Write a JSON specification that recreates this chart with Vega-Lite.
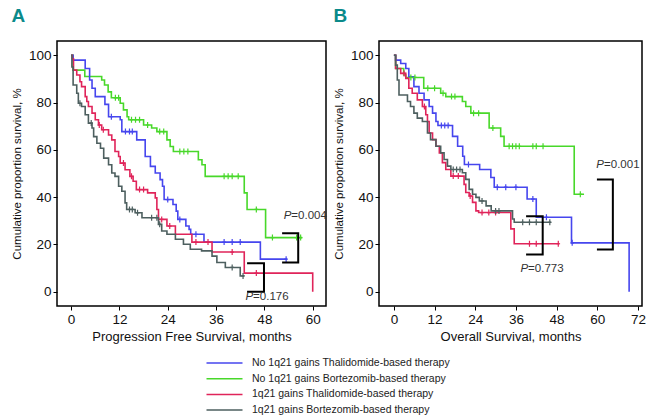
{
"$schema":"https://vega.github.io/schema/vega-lite/v6.json",
"padding":{"left":10,"top":6,"right":5,"bottom":5},
"config":{"font":"Liberation Sans","view":{"stroke":"black","strokeWidth":1.5},
"axis":{"domain":false,"grid":false,"tickColor":"black","tickSize":4,"labelFontSize":13.5,"labelColor":"#111","titleColor":"#111","titleFontWeight":"normal","labelPadding":2},
"concat":{"spacing":4}},
"datasets":{
"curvesA":[
{"g":"NB","t":0,"v":100},{"g":"NB","t":0.5,"v":93.7},{"g":"NB","t":3.4,"v":91},{"g":"NB","t":7.6,"v":89.5},{"g":"NB","t":8.3,"v":87.4},{"g":"NB","t":9.2,"v":84.5},{"g":"NB","t":10,"v":82},{"g":"NB","t":12.2,"v":79.7},{"g":"NB","t":13,"v":76.9},{"g":"NB","t":13.9,"v":74},{"g":"NB","t":14.3,"v":72.7},{"g":"NB","t":18,"v":70.5},{"g":"NB","t":20,"v":69.2},{"g":"NB","t":21.3,"v":67.7},{"g":"NB","t":23.8,"v":64.2},{"g":"NB","t":24.6,"v":61.4},{"g":"NB","t":25.4,"v":59.3},{"g":"NB","t":31.6,"v":55.8},{"g":"NB","t":32.5,"v":53.7},{"g":"NB","t":33.3,"v":48.8},{"g":"NB","t":43,"v":41.8},{"g":"NB","t":43.7,"v":34.8},{"g":"NB","t":48.3,"v":22.9},{"g":"NB","t":57.4,"v":22.9},
{"g":"NT","t":0,"v":100},{"g":"NT","t":0.5,"v":97.9},{"g":"NT","t":3.5,"v":94.4},{"g":"NT","t":4.6,"v":89.5},{"g":"NT","t":5.2,"v":86},{"g":"NT","t":6,"v":82.5},{"g":"NT","t":8.4,"v":79.2},{"g":"NT","t":9.3,"v":74},{"g":"NT","t":12.2,"v":72.7},{"g":"NT","t":12.6,"v":67.7},{"g":"NT","t":16.3,"v":64.2},{"g":"NT","t":18.4,"v":57.2},{"g":"NT","t":19.7,"v":53},{"g":"NT","t":20.9,"v":50.2},{"g":"NT","t":22.1,"v":47.4},{"g":"NT","t":22.7,"v":44.6},{"g":"NT","t":23.1,"v":39},{"g":"NT","t":25.3,"v":36.9},{"g":"NT","t":26.1,"v":34.1},{"g":"NT","t":26.5,"v":30.6},{"g":"NT","t":28.5,"v":27.8},{"g":"NT","t":29.3,"v":26.4},{"g":"NT","t":29.7,"v":24.3},{"g":"NT","t":33,"v":21},{"g":"NT","t":47,"v":13.8},{"g":"NT","t":53.6,"v":13.8},
{"g":"GT","t":0,"v":100},{"g":"GT","t":0.3,"v":98.5},{"g":"GT","t":0.6,"v":93.7},{"g":"GT","t":1.4,"v":91.6},{"g":"GT","t":2.2,"v":88.8},{"g":"GT","t":2.6,"v":86.7},{"g":"GT","t":3.5,"v":82.5},{"g":"GT","t":3.9,"v":80.4},{"g":"GT","t":4.3,"v":78.3},{"g":"GT","t":5.2,"v":75.5},{"g":"GT","t":6,"v":72.7},{"g":"GT","t":6.8,"v":70.5},{"g":"GT","t":7.6,"v":68.5},{"g":"GT","t":9.3,"v":66.3},{"g":"GT","t":10.1,"v":64.2},{"g":"GT","t":10.9,"v":59.3},{"g":"GT","t":11.8,"v":57.2},{"g":"GT","t":12.2,"v":54.4},{"g":"GT","t":13.4,"v":51.6},{"g":"GT","t":14.6,"v":48.8},{"g":"GT","t":15.4,"v":46.7},{"g":"GT","t":16.2,"v":43.2},{"g":"GT","t":19,"v":41.8},{"g":"GT","t":20.9,"v":39.7},{"g":"GT","t":21.3,"v":34.8},{"g":"GT","t":21.7,"v":30.6},{"g":"GT","t":23.8,"v":27.8},{"g":"GT","t":25.9,"v":24.3},{"g":"GT","t":30,"v":21},{"g":"GT","t":35,"v":16.8},{"g":"GT","t":43,"v":7.9},{"g":"GT","t":60,"v":0},
{"g":"GB","t":0,"v":100},{"g":"GB","t":0.2,"v":95},{"g":"GB","t":0.5,"v":87.4},{"g":"GB","t":1.4,"v":83.9},{"g":"GB","t":1.8,"v":79.7},{"g":"GB","t":2.6,"v":78.3},{"g":"GB","t":3.5,"v":74.8},{"g":"GB","t":4.3,"v":71.3},{"g":"GB","t":5.2,"v":69.2},{"g":"GB","t":5.6,"v":65.6},{"g":"GB","t":6.4,"v":62.8},{"g":"GB","t":7.3,"v":60.7},{"g":"GB","t":8.1,"v":56.5},{"g":"GB","t":9.3,"v":53.7},{"g":"GB","t":10.1,"v":50.2},{"g":"GB","t":10.9,"v":48.8},{"g":"GB","t":11.8,"v":44.6},{"g":"GB","t":12.6,"v":42.5},{"g":"GB","t":13.4,"v":37.6},{"g":"GB","t":13.8,"v":34.8},{"g":"GB","t":15.9,"v":33.4},{"g":"GB","t":17.6,"v":31.3},{"g":"GB","t":21.7,"v":28.5},{"g":"GB","t":22.5,"v":25.7},{"g":"GB","t":23.8,"v":24.3},{"g":"GB","t":25.9,"v":22.2},{"g":"GB","t":27.9,"v":20.1},{"g":"GB","t":29.6,"v":18},{"g":"GB","t":32.4,"v":17.3},{"g":"GB","t":35,"v":15.1},{"g":"GB","t":36.2,"v":12.4},{"g":"GB","t":38.3,"v":10.3},{"g":"GB","t":42,"v":6.7},{"g":"GB","t":43,"v":6.7}
],
"censA":[
{"g":"NB","t":11,"v":82},{"g":"NB","t":11.8,"v":82},{"g":"NB","t":15,"v":72.7},{"g":"NB","t":16,"v":72.7},{"g":"NB","t":17,"v":72.7},{"g":"NB","t":19,"v":70.5},{"g":"NB","t":22,"v":67.7},{"g":"NB","t":23,"v":67.7},{"g":"NB","t":27,"v":59.3},{"g":"NB","t":28,"v":59.3},{"g":"NB","t":29,"v":59.3},{"g":"NB","t":38,"v":48.8},{"g":"NB","t":39,"v":48.8},{"g":"NB","t":40,"v":48.8},{"g":"NB","t":41.5,"v":48.8},{"g":"NB","t":46,"v":34.8},{"g":"NB","t":50,"v":22.9},{"g":"NB","t":56,"v":22.9},{"g":"NB","t":57,"v":22.9},
{"g":"NT","t":10,"v":74},{"g":"NT","t":13.5,"v":67.7},{"g":"NT","t":14.5,"v":67.7},{"g":"NT","t":15.2,"v":67.7},{"g":"NT","t":24,"v":39},{"g":"NT","t":27,"v":30.6},{"g":"NT","t":31,"v":24.3},{"g":"NT","t":38,"v":21},{"g":"NT","t":40,"v":21},{"g":"NT","t":42,"v":21},{"g":"NT","t":53.4,"v":13.8},
{"g":"GT","t":7,"v":70.5},{"g":"GT","t":8,"v":68.5},{"g":"GT","t":13,"v":54.4},{"g":"GT","t":15,"v":48.8},{"g":"GT","t":17,"v":43.2},{"g":"GT","t":18,"v":43.2},{"g":"GT","t":22.5,"v":30.6},{"g":"GT","t":24.5,"v":27.8},{"g":"GT","t":31,"v":21},{"g":"GT","t":34,"v":21},{"g":"GT","t":40,"v":16.8},{"g":"GT","t":46,"v":7.9},
{"g":"GB","t":2.2,"v":79.7},{"g":"GB","t":5,"v":71.3},{"g":"GB","t":14.5,"v":34.8},{"g":"GB","t":15.2,"v":34.8},{"g":"GB","t":16.5,"v":33.4},{"g":"GB","t":20,"v":31.3},{"g":"GB","t":21.3,"v":31.3},{"g":"GB","t":22,"v":28.5},{"g":"GB","t":40,"v":10.3},{"g":"GB","t":42.7,"v":6.7}
],
"curvesB":[
{"g":"NB","t":0,"v":100},{"g":"NB","t":0.5,"v":94.4},{"g":"NB","t":2.9,"v":91.6},{"g":"NB","t":3.5,"v":90.6},{"g":"NB","t":8.8,"v":86},{"g":"NB","t":13.8,"v":83.9},{"g":"NB","t":15.3,"v":82.5},{"g":"NB","t":20.2,"v":80.4},{"g":"NB","t":21.2,"v":78.3},{"g":"NB","t":22.7,"v":75.5},{"g":"NB","t":28.1,"v":69.2},{"g":"NB","t":31.5,"v":65.7},{"g":"NB","t":32.5,"v":61.5},{"g":"NB","t":53.2,"v":41.2},{"g":"NB","t":56.1,"v":41.2},
{"g":"NT","t":0,"v":100},{"g":"NT","t":0.5,"v":97.9},{"g":"NT","t":2,"v":96.5},{"g":"NT","t":3.5,"v":94.4},{"g":"NT","t":4.4,"v":90.9},{"g":"NT","t":5.9,"v":86.7},{"g":"NT","t":7.4,"v":83.9},{"g":"NT","t":8.9,"v":81.1},{"g":"NT","t":10.4,"v":78.3},{"g":"NT","t":11.4,"v":75.5},{"g":"NT","t":12.4,"v":72},{"g":"NT","t":13,"v":70.3},{"g":"NT","t":17.3,"v":65.7},{"g":"NT","t":18.8,"v":61.5},{"g":"NT","t":20.3,"v":57.3},{"g":"NT","t":20.8,"v":53.8},{"g":"NT","t":25.3,"v":51.7},{"g":"NT","t":28.6,"v":48.3},{"g":"NT","t":29.6,"v":44.2},{"g":"NT","t":39.3,"v":39.2},{"g":"NT","t":42,"v":31.5},{"g":"NT","t":52.4,"v":20.7},{"g":"NT","t":69.4,"v":0},
{"g":"GT","t":0,"v":100},{"g":"GT","t":0.5,"v":94.4},{"g":"GT","t":2,"v":92.3},{"g":"GT","t":3.5,"v":90.2},{"g":"GT","t":4.4,"v":86},{"g":"GT","t":5.4,"v":83.9},{"g":"GT","t":6.9,"v":81.1},{"g":"GT","t":8.4,"v":78.3},{"g":"GT","t":9.4,"v":74.8},{"g":"GT","t":9.9,"v":72},{"g":"GT","t":10.4,"v":67.1},{"g":"GT","t":11.4,"v":64.3},{"g":"GT","t":12.4,"v":61.5},{"g":"GT","t":13.4,"v":58.7},{"g":"GT","t":14.3,"v":54.6},{"g":"GT","t":15.3,"v":51.7},{"g":"GT","t":16.8,"v":48.9},{"g":"GT","t":20.7,"v":45.4},{"g":"GT","t":21.2,"v":42},{"g":"GT","t":22.2,"v":40.5},{"g":"GT","t":23.2,"v":37.8},{"g":"GT","t":24.2,"v":34.2},{"g":"GT","t":25,"v":33.5},{"g":"GT","t":34.5,"v":26.6},{"g":"GT","t":35.5,"v":20.3},{"g":"GT","t":48.8,"v":20.3},
{"g":"GB","t":0,"v":100},{"g":"GB","t":0.5,"v":95.8},{"g":"GB","t":1,"v":89.5},{"g":"GB","t":1.5,"v":83.2},{"g":"GB","t":4,"v":80.4},{"g":"GB","t":4.9,"v":78.3},{"g":"GB","t":5.9,"v":75.5},{"g":"GB","t":6.9,"v":73.4},{"g":"GB","t":8.4,"v":72},{"g":"GB","t":9.9,"v":67.1},{"g":"GB","t":10.8,"v":64.3},{"g":"GB","t":12.4,"v":61.5},{"g":"GB","t":13.8,"v":58.7},{"g":"GB","t":14.8,"v":55.9},{"g":"GB","t":15.8,"v":53.1},{"g":"GB","t":16.8,"v":51.7},{"g":"GB","t":20.2,"v":50.3},{"g":"GB","t":21.2,"v":47.5},{"g":"GB","t":22.2,"v":43.3},{"g":"GB","t":23.2,"v":41.2},{"g":"GB","t":24.2,"v":39.9},{"g":"GB","t":25.2,"v":38.4},{"g":"GB","t":27.2,"v":36.3},{"g":"GB","t":28.7,"v":34.2},{"g":"GB","t":35,"v":30.8},{"g":"GB","t":35.5,"v":29.4},{"g":"GB","t":46.4,"v":29.4}
],
"censB":[
{"g":"NB","t":5,"v":90.6},{"g":"NB","t":6.2,"v":90.6},{"g":"NB","t":10,"v":86},{"g":"NB","t":12,"v":86},{"g":"NB","t":14.5,"v":83.9},{"g":"NB","t":17,"v":82.5},{"g":"NB","t":18,"v":82.5},{"g":"NB","t":23.5,"v":75.5},{"g":"NB","t":25,"v":75.5},{"g":"NB","t":29.2,"v":69.2},{"g":"NB","t":34,"v":61.5},{"g":"NB","t":35,"v":61.5},{"g":"NB","t":36,"v":61.5},{"g":"NB","t":37,"v":61.5},{"g":"NB","t":41,"v":61.5},{"g":"NB","t":42,"v":61.5},{"g":"NB","t":44,"v":61.5},{"g":"NB","t":55,"v":41.2},
{"g":"NT","t":14,"v":70.3},{"g":"NT","t":15,"v":70.3},{"g":"NT","t":16,"v":70.3},{"g":"NT","t":22,"v":53.8},{"g":"NT","t":30.5,"v":44.2},{"g":"NT","t":33,"v":44.2},{"g":"NT","t":36,"v":44.2},{"g":"NT","t":41,"v":39.2},{"g":"NT","t":45,"v":31.5},{"g":"NT","t":52.6,"v":20.7},
{"g":"GT","t":3,"v":92.3},{"g":"GT","t":9,"v":78.3},{"g":"GT","t":17.5,"v":48.9},{"g":"GT","t":19,"v":48.9},{"g":"GT","t":22.5,"v":40.5},{"g":"GT","t":26,"v":33.5},{"g":"GT","t":28,"v":33.5},{"g":"GT","t":30,"v":33.5},{"g":"GT","t":40,"v":20.3},{"g":"GT","t":42,"v":20.3},{"g":"GT","t":48.5,"v":20.3},
{"g":"GB","t":17.5,"v":51.7},{"g":"GB","t":18.5,"v":51.7},{"g":"GB","t":19.5,"v":51.7},{"g":"GB","t":26,"v":38.4},{"g":"GB","t":30,"v":34.2},{"g":"GB","t":31,"v":34.2},{"g":"GB","t":38,"v":29.4},{"g":"GB","t":40,"v":29.4},{"g":"GB","t":42,"v":29.4},{"g":"GB","t":46,"v":29.4}
],
"brA":[
{"b":1,"k":1,"t":52.4,"v":24.7},{"b":1,"k":2,"t":56.4,"v":24.7},{"b":1,"k":3,"t":56.4,"v":12.4},{"b":1,"k":4,"t":52.4,"v":12.4},
{"b":2,"k":1,"t":43.7,"v":12.1},{"b":2,"k":2,"t":47.9,"v":12.1},{"b":2,"k":3,"t":47.9,"v":0},{"b":2,"k":4,"t":43.7,"v":0}
],
"brB":[
{"b":1,"k":1,"t":59.9,"v":47.5},{"b":1,"k":2,"t":64.6,"v":47.5},{"b":1,"k":3,"t":64.6,"v":17.9},{"b":1,"k":4,"t":59.9,"v":17.9},
{"b":2,"k":1,"t":39,"v":31.9},{"b":2,"k":2,"t":43.9,"v":31.9},{"b":2,"k":3,"t":43.9,"v":15.8},{"b":2,"k":4,"t":39,"v":15.8}
],
"pA":[{"t":54.7,"v":32,"s":"=0.004"},{"t":45.2,"v":-2.4,"s":"=0.176"}],
"pB":[{"t":62.0,"v":53.5,"s":"=0.001"},{"t":39.6,"v":9.8,"s":"=0.773"}]
},
"hconcat":[
{"width":269,"height":265,
"title":{"text":"A","anchor":"start","frame":"bounds","fontSize":19,"fontWeight":"bold","color":"#0b8a8a","offset":15,"font":"Liberation Sans Narrow, Liberation Sans"},
"encoding":{
"x":{"field":"t","type":"quantitative","scale":{"domain":[-3.5,63.3],"nice":false,"zero":false},"axis":{"values":[0,12,24,36,48,60],"title":"Progression Free Survival, months","titleFontSize":13,"titlePadding":5}},
"y":{"field":"v","type":"quantitative","scale":{"domain":[-6,106],"nice":false,"zero":false},"axis":{"values":[0,20,40,60,80,100],"title":"Cumulative proportion survival, %","titleFontSize":11.5,"titlePadding":6}}},
"layer":[
{"data":{"name":"curvesA"},"mark":{"type":"line","interpolate":"step-after","strokeWidth":1.6},
"encoding":{"color":{"field":"g","type":"nominal","scale":{"domain":["NT","NB","GT","GB"],"range":["#4646ee","#48d82a","#e0245a","#4d5f5f"]},
"legend":{"orient":"none","legendX":160.5,"legendY":315,"padding":0,"title":null,"symbolType":"M-3,0H3","symbolSize":144,"symbolStrokeWidth":1.5,"labelFontSize":10.5,"labelColor":"#222","rowPadding":2.7,"labelOffset":20.5,"labelLimit":400,
"labelExpr":"datum.value == 'NT' ? 'No 1q21 gains Thalidomide-based therapy' : datum.value == 'NB' ? 'No 1q21 gains Bortezomib-based therapy' : datum.value == 'GT' ? '1q21 gains Thalidomide-based therapy' : '1q21 gains Bortezomib-based therapy'"}}}},
{"data":{"name":"censA"},"mark":{"type":"point","shape":"M0,-1V1M-0.6,0H0.6","size":36,"filled":false,"strokeWidth":1.2,"opacity":1},
"encoding":{"color":{"field":"g","type":"nominal","legend":null}}},
{"data":{"name":"brA"},"mark":{"type":"line","color":"black","strokeWidth":2},"encoding":{"detail":{"field":"b"},"order":{"field":"k"}}},
{"data":{"name":"pA"},"mark":{"type":"text","text":"P","align":"right","baseline":"middle","fontSize":11.5,"fontStyle":"italic","color":"#333"},"encoding":{}},
{"data":{"name":"pA"},"mark":{"type":"text","align":"left","baseline":"middle","fontSize":11.5,"color":"#333"},"encoding":{"text":{"field":"s"}}}
]},
{"width":263,"height":265,
"title":{"text":"B","anchor":"start","frame":"bounds","fontSize":19,"fontWeight":"bold","color":"#0b8a8a","offset":15,"font":"Liberation Sans Narrow, Liberation Sans"},
"encoding":{
"x":{"field":"t","type":"quantitative","scale":{"domain":[-4.4,73.2],"nice":false,"zero":false},"axis":{"values":[0,12,24,36,48,60,72],"title":"Overall Survival, months","titleFontSize":13,"titlePadding":5}},
"y":{"field":"v","type":"quantitative","scale":{"domain":[-6,106],"nice":false,"zero":false},"axis":{"values":[0,20,40,60,80,100],"title":"Cumulative proportion survival, %","titleFontSize":11.5,"titlePadding":6}}},
"layer":[
{"data":{"name":"curvesB"},"mark":{"type":"line","interpolate":"step-after","strokeWidth":1.6},
"encoding":{"color":{"field":"g","type":"nominal","legend":null}}},
{"data":{"name":"censB"},"mark":{"type":"point","shape":"M0,-1V1M-0.6,0H0.6","size":36,"filled":false,"strokeWidth":1.2,"opacity":1},
"encoding":{"color":{"field":"g","type":"nominal","legend":null}}},
{"data":{"name":"brB"},"mark":{"type":"line","color":"black","strokeWidth":2},"encoding":{"detail":{"field":"b"},"order":{"field":"k"}}},
{"data":{"name":"pB"},"mark":{"type":"text","text":"P","align":"right","baseline":"middle","fontSize":11.5,"fontStyle":"italic","color":"#333"},"encoding":{}},
{"data":{"name":"pB"},"mark":{"type":"text","align":"left","baseline":"middle","fontSize":11.5,"color":"#333"},"encoding":{"text":{"field":"s"}}}
]}
],
"resolve":{"scale":{"color":"shared"}}
}
